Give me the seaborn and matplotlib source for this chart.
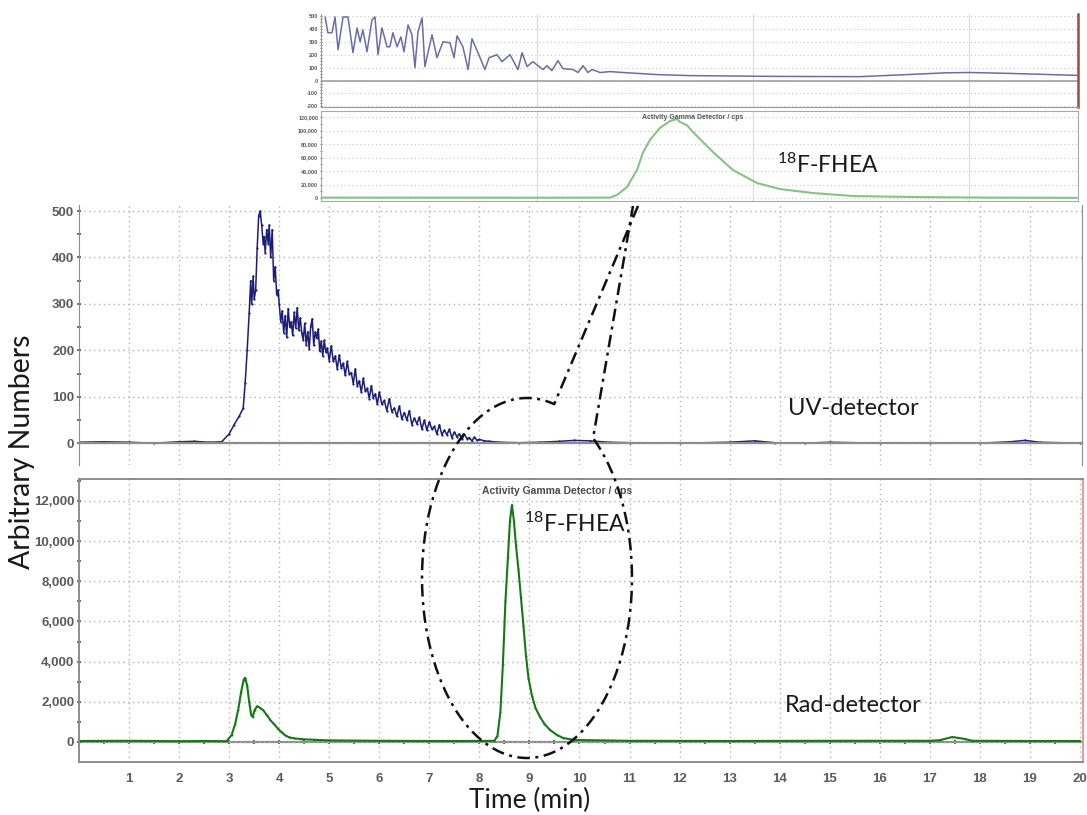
import numpy as np
import seaborn as sns
import matplotlib.pyplot as plt
from matplotlib.lines import Line2D
from matplotlib.ticker import MultipleLocator

sns.set_style('white')
plt.rcParams['font.family'] = ['Lato', 'DejaVu Sans']
plt.rcParams['mathtext.fontset'] = 'custom'
plt.rcParams['mathtext.rm'] = 'Lato'

# ---- main UV trace (min, arbitrary units) ----
uv_time = [0.0, 0.5, 1.0, 1.5, 2.0, 2.3, 2.6, 2.85, 3.0, 3.1, 3.2, 3.28, 3.32, 3.36, 3.40, 3.43,
           3.45, 3.48, 3.50, 3.53, 3.56, 3.59, 3.62, 3.65, 3.68, 3.70, 3.72, 3.75, 3.78, 3.80,
           3.83, 3.86, 3.89, 3.92, 3.95, 3.98, 4.00, 4.03, 4.06, 4.09, 4.12, 4.15, 4.18, 4.21,
           4.24, 4.27, 4.30, 4.33, 4.36, 4.39, 4.42, 4.45, 4.48, 4.51, 4.54, 4.57, 4.60, 4.63,
           4.66, 4.69, 4.72, 4.75, 4.78, 4.81, 4.84, 4.87, 4.90, 4.93, 4.96, 5.00, 5.04, 5.08,
           5.12, 5.16, 5.20, 5.24, 5.28, 5.32, 5.36, 5.40, 5.44, 5.48, 5.52, 5.56, 5.60, 5.64,
           5.68, 5.72, 5.76, 5.80, 5.84, 5.88, 5.92, 5.96, 6.00, 6.05, 6.10, 6.15, 6.20, 6.25,
           6.30, 6.35, 6.40, 6.45, 6.50, 6.55, 6.60, 6.65, 6.70, 6.75, 6.80, 6.85, 6.90, 6.95,
           7.00, 7.05, 7.10, 7.15, 7.20, 7.25, 7.30, 7.35, 7.40, 7.45, 7.50, 7.55, 7.60, 7.65,
           7.70, 7.75, 7.80, 7.85, 7.90, 7.95, 8.00, 8.1, 8.2, 8.4, 8.8, 9.2, 9.6, 9.9, 10.2,
           10.6, 11.0, 12.0, 13.0, 13.5, 13.9, 14.5, 15.0, 16.0, 17.0, 18.0, 18.6, 18.9, 19.2, 20.0]
uv_signal = [2, 3, 2, 0, 3, 4, 2, 3, 20, 40, 58, 75, 130, 200, 280, 350,
             300, 360, 310, 330, 420, 490, 500, 470, 430, 445, 410, 460, 430, 470,
             400, 460, 350, 380, 320, 330,
             300, 262, 285, 238, 275, 228, 290, 250, 262, 232, 282, 248, 292, 243, 270, 238,
             222, 258, 212, 240, 203, 252, 268, 211, 240, 226, 246, 198, 220, 188, 222, 196, 205,
             178, 210, 176, 188, 160, 190, 162, 172, 146, 176, 148, 152, 128, 160, 124, 134,
             110, 140, 112, 118, 96, 124, 98, 106, 84,
             110, 84, 92, 70, 96, 68, 76, 58, 80, 52, 66, 50, 70, 40, 54, 42, 56, 30, 50, 28,
             46, 30, 36, 20, 40, 18, 28, 18, 30, 12, 24, 14, 20, 8, 19, 10, 12, 5, 13, 6, 8,
             5, 4, 2, 1, 2, 4, 6, 5,
             2, 1, 0, 2, 5, 1, 0, 2, 0, 1, 0, 3, 6, 2, 0]

# ---- main radio trace (min, cps) ----
rad_time = [0.0, 1.0, 2.0, 2.5, 2.95, 3.05, 3.12, 3.18, 3.24, 3.29, 3.32, 3.36, 3.40, 3.44,
            3.47, 3.51, 3.56, 3.62, 3.68, 3.75, 3.82, 3.90, 3.98, 4.05, 4.12, 4.20, 4.30,
            4.45, 4.7, 5.0, 6.0, 7.0, 8.0, 8.30, 8.36, 8.42, 8.47, 8.52, 8.57, 8.61, 8.65,
            8.69, 8.73, 8.78, 8.83, 8.88, 8.93, 8.98, 9.05, 9.12, 9.21, 9.30, 9.41, 9.55,
            9.67, 9.9, 11.0, 13.0, 15.0, 17.0, 17.2, 17.45, 17.7, 17.85, 19.0, 20.0]
rad_signal = [50, 60, 40, 50, 40, 350, 900, 1600, 2500, 3100, 3200, 2800, 2000, 1350,
              1250, 1600, 1780, 1700, 1580, 1350, 1100, 880, 650, 480, 330, 230, 180,
              140, 110, 80, 60, 50, 50, 60, 300, 1500, 3900, 7000, 9200, 11000, 11800,
              11000, 9800, 8600, 7200, 5800, 4300, 3200, 2300, 1700, 1250, 900, 600, 350,
              200, 100, 60, 50, 60, 60, 90, 250, 150, 60, 50, 50]

# ---- zoomed inset (7 - 10.5 min) ----
ins_uv_time = [7.019, 7.032, 7.051, 7.065, 7.079, 7.102, 7.125, 7.148, 7.167, 7.181, 7.194,
               7.213, 7.236, 7.250, 7.264, 7.282, 7.306, 7.319, 7.333, 7.352, 7.370, 7.384,
               7.403, 7.421, 7.435, 7.449, 7.468, 7.481, 7.514, 7.537, 7.565, 7.597, 7.616,
               7.630, 7.657, 7.681, 7.699, 7.727, 7.759, 7.778, 7.815, 7.838, 7.875, 7.912,
               7.931, 7.954, 7.981, 8.028, 8.046, 8.069, 8.097, 8.120, 8.167, 8.190, 8.213,
               8.236, 8.255, 8.292, 8.338, 8.398, 8.556, 8.708, 9.10, 9.495, 9.70, 9.898,
               10.005, 10.19, 10.5]
ins_uv_signal = [492, 370, 370, 492, 238, 492, 492, 215, 407, 300, 392,
                 223, 469, 492, 200, 407, 261, 261, 370, 261, 338, 223,
                 430, 354, 100, 377, 485, 108, 354, 177, 300, 292, 177,
                 346, 261, 85, 323, 215, 85, 177, 200, 146, 200, 85,
                 215, 108, 146, 85, 115, 77, 154, 92, 85, 62, 115,
                 62, 85, 62, 69, 62, 46, 38, 32, 30, 45, 60,
                 62, 55, 40]
ins_rad_time = [7.0, 8.0, 8.338, 8.37, 8.417, 8.463, 8.49, 8.523, 8.569, 8.616, 8.648, 8.662,
                8.694, 8.722, 8.815, 8.907, 9.019, 9.125, 9.278, 9.463, 9.74, 10.1, 10.5]
ins_rad_signal = [600, 500, 600, 4400, 16300, 41500, 66700, 86000, 103700, 114000, 117000,
                  112600, 108000, 97800, 68100, 41500, 22200, 13300, 7400, 3000, 1500, 600, 300]

uv_ticks = [0, 100, 200, 300, 400, 500]
rad_ticks = [0, 2000, 4000, 6000, 8000, 10000, 12000]
time_ticks = list(range(1, 21))
ins_uv_ticks = [-200, -100, 0, 100, 200, 300, 400, 500]
ins_rad_ticks = [0, 20000, 40000, 60000, 80000, 100000, 120000]

W, H = 1087, 815
GRID = '#b4b4b4'
SPINE = '#8c8c8c'
TICKFONT = dict(family='Liberation Sans', weight='bold', color='#5a5a5a')


def box(left, top, right, bottom):
    return [left / W, 1 - bottom / H, (right - left) / W, (bottom - top) / H]


def fp(x, y):
    return x / W, 1 - y / H


fig = plt.figure(figsize=(W / 100, H / 100), dpi=100)

# ---------------- UV panel ----------------
ax_uv = fig.add_axes(box(79, 205, 1082, 465))
sns.lineplot(x=uv_time, y=uv_signal, ax=ax_uv, color='#1d1d78', lw=1.1,
             marker='o', markersize=1.6, markeredgewidth=0)
ax_uv.set_xlim(0, 20.04)
ax_uv.set_ylim(-47, 513)
ax_uv.set_xticks(time_ticks[:-1])
ax_uv.xaxis.set_minor_locator(MultipleLocator(0.5))
ax_uv.set_yticks(uv_ticks)
ax_uv.set_yticklabels([str(v) for v in uv_ticks], fontsize=9.5, **TICKFONT)
ax_uv.yaxis.set_minor_locator(MultipleLocator(50))
ax_uv.spines['bottom'].set_position(('data', 0))
ax_uv.spines['top'].set_visible(False)
for s in ['left', 'right', 'bottom']:
    ax_uv.spines[s].set_color(SPINE)
ax_uv.spines['bottom'].set_linewidth(1.6)
ax_uv.tick_params(axis='x', which='both', labelbottom=False, length=3, width=1.3,
                  color='#555555', direction='inout')
ax_uv.tick_params(axis='y', which='both', length=3, width=1.2, color='#555555',
                  direction='inout', pad=2, left=True)
ax_uv.grid(True, which='major', ls=(0, (1, 2.5)), color=GRID, lw=1)
ax_uv.set_xlabel('')
ax_uv.set_ylabel('')
ax_uv.text(14.17, 60, 'UV-detector', fontsize=17, color='#1a1a1a')

# ---------------- Rad panel ----------------
ax_rad = fig.add_axes(box(79, 479, 1083, 762))
sns.lineplot(x=rad_time, y=rad_signal, ax=ax_rad, color='#137a13', lw=1.5,
             marker='o', markersize=1.4, markeredgewidth=0)
ax_rad.set_xlim(0, 20.06)
ax_rad.set_ylim(-996, 13095)
ax_rad.set_xticks(time_ticks)
ax_rad.set_xticklabels([str(t) for t in time_ticks], fontsize=9.5, **TICKFONT)
ax_rad.set_yticks(rad_ticks)
ax_rad.set_yticklabels([f'{v:,}' for v in rad_ticks], fontsize=9.5, **TICKFONT)
ax_rad.yaxis.set_minor_locator(MultipleLocator(1000))
ax_rad.tick_params(axis='x', which='both', length=0, pad=8)
ax_rad.tick_params(axis='y', which='both', length=3, width=1.2, color='#555555',
                   direction='inout', pad=2, left=True)
for s in ['left', 'top', 'bottom']:
    ax_rad.spines[s].set_color(SPINE)
    ax_rad.spines[s].set_linewidth(1.4)
ax_rad.spines['right'].set_color('#e59a9a')
ax_rad.spines['right'].set_linewidth(1.4)
ax_rad.grid(True, which='major', ls=(0, (1, 2.5)), color=GRID, lw=1)
zero_frac = (0 - ax_rad.get_ylim()[0]) / (ax_rad.get_ylim()[1] - ax_rad.get_ylim()[0])
sec = ax_rad.secondary_xaxis(zero_frac)
sec.set_xticks([t * 0.5 for t in range(1, 40)])
sec.tick_params(labelbottom=False, length=3, width=1.3, color='#555555', direction='inout')
sec.spines['bottom'].set_color(SPINE)
sec.spines['bottom'].set_linewidth(1.6)
ax_rad.set_xlabel('')
ax_rad.set_ylabel('')
ax_rad.text(9.55, 12500, 'Activity Gamma Detector / cps', fontsize=7.5, ha='center',
            va='center', family='Liberation Sans', weight='bold', color='#4a4a4a')
ax_rad.text(8.89, 10460, r'$\mathregular{^{18}}$F-FHEA', fontsize=16.5, color='#1a1a1a')
ax_rad.text(14.1, 1500, 'Rad-detector', fontsize=17, color='#1a1a1a')

# ---------------- zoomed inset ----------------
ax_iu = fig.add_axes(box(321, 14, 1078, 107))
sns.lineplot(x=ins_uv_time, y=ins_uv_signal, ax=ax_iu, color='#6c6ca8', lw=1.1)
ax_iu.set_xlim(7, 10.505)
ax_iu.set_ylim(-205, 515)
ax_iu.set_xticks([8, 9, 10])
ax_iu.set_yticks(ins_uv_ticks)
ax_iu.set_yticklabels([str(v) for v in ins_uv_ticks], fontsize=4, **TICKFONT)
ax_iu.yaxis.set_minor_locator(MultipleLocator(25))
ax_iu.tick_params(axis='x', labelbottom=False, length=0)
ax_iu.tick_params(axis='y', which='both', length=2, width=0.8, color='#777777', pad=1,
                  direction='inout', left=True)
ax_iu.spines['top'].set_visible(False)
for s in ['left', 'bottom']:
    ax_iu.spines[s].set_color('#9a9a9a')
ax_iu.spines['right'].set_color('#a04848')
ax_iu.spines['right'].set_linewidth(1.8)
ax_iu.axhline(0, color='#a0a0a0', lw=1.2, zorder=1)
ax_iu.grid(True, axis='y', ls=(0, (1, 2.5)), color='#c8c8c8', lw=0.8)
ax_iu.grid(True, axis='x', ls='-', color='#dedede', lw=0.9)
ax_iu.set_xlabel('')
ax_iu.set_ylabel('')

ax_ir = fig.add_axes(box(321, 111, 1078, 201))
sns.lineplot(x=ins_rad_time, y=ins_rad_signal, ax=ax_ir, color='#86c486', lw=1.5)
ax_ir.set_xlim(7, 10.505)
ax_ir.set_ylim(-4400, 128900)
ax_ir.set_xticks([8, 9, 10])
ax_ir.set_yticks(ins_rad_ticks)
ax_ir.set_yticklabels([f'{v:,}' for v in ins_rad_ticks], fontsize=4, **TICKFONT)
ax_ir.yaxis.set_minor_locator(MultipleLocator(10000))
ax_ir.tick_params(axis='x', labelbottom=False, length=0)
ax_ir.tick_params(axis='y', which='both', length=2, width=0.8, color='#777777', pad=1,
                  direction='inout', left=True)
for s in ['left', 'bottom', 'top', 'right']:
    ax_ir.spines[s].set_color('#a8a8a8')
ax_ir.grid(True, axis='y', ls=(0, (1, 2.5)), color='#c8c8c8', lw=0.8)
ax_ir.grid(True, axis='x', ls='-', color='#dedede', lw=0.9)
ax_ir.set_xlabel('')
ax_ir.set_ylabel('')
ax_ir.text(8.72, 120000, 'Activity Gamma Detector / cps', fontsize=5, ha='center',
           va='center', family='Liberation Sans', weight='bold', color='#555555')
ax_ir.text(9.11, 37000, r'$\mathregular{^{18}}$F-FHEA', fontsize=16.5, color='#1a1a1a')

# ---------------- callout: ellipse round the peak, wedge to the inset ----------------
cx, cy, a, b = 527, 578, 105, 180
theta = np.deg2rad(np.linspace(75, 411, 200))
px = [638, *(cx + a * np.cos(theta)), 633]
py = [206, *(cy - b * np.sin(theta)), 206]
fx, fy = zip(*[fp(x, y) for x, y in zip(px, py)])
fig.add_artist(Line2D(fx, fy, transform=fig.transFigure, color='#111111', lw=1.8,
                      ls=(0, (5, 2.2, 1.2, 2.2)), zorder=10))

# ---------------- axis titles ----------------
fig.text(*fp(22, 452), 'Arbitrary Numbers', rotation=90, fontsize=20.5, ha='center',
         va='center', color='#1a1a1a')
fig.text(*fp(530, 800), 'Time (min)', fontsize=19, ha='center', va='center',
         color='#1a1a1a')

fig.savefig('out.png', dpi=100)
